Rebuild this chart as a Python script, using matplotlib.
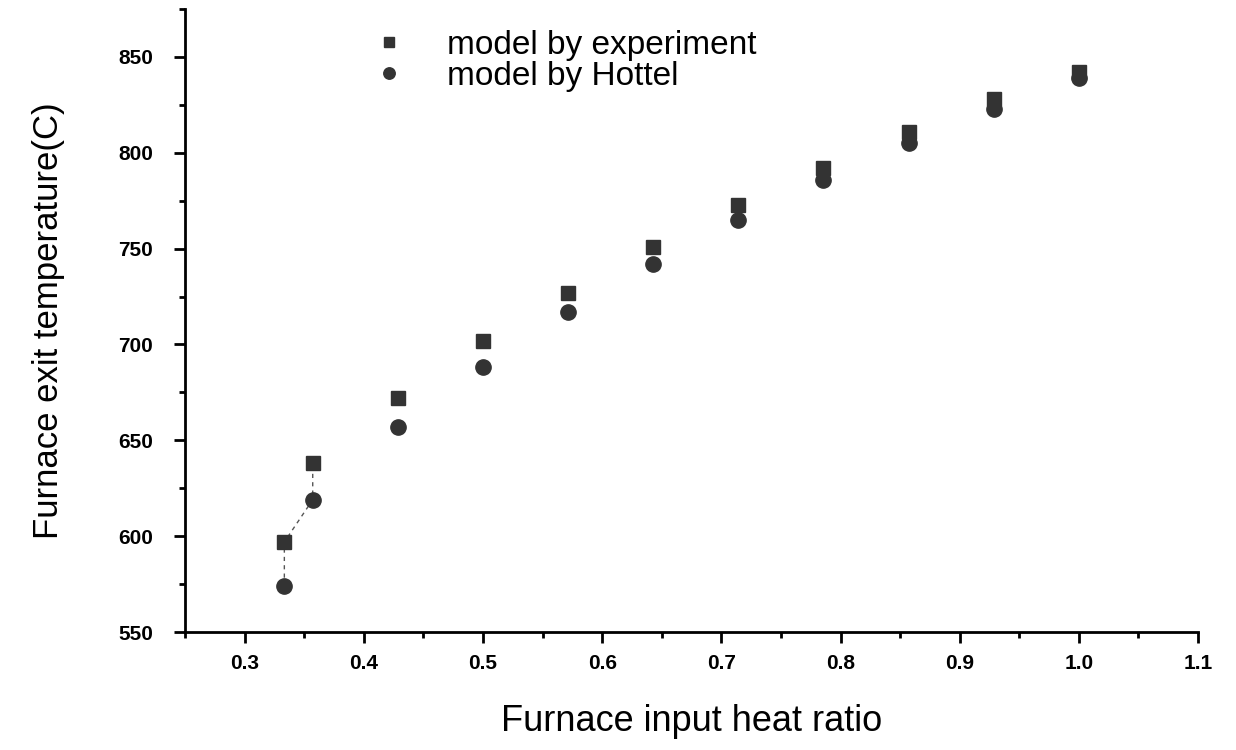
import numpy as np
import matplotlib.pyplot as plt
from matplotlib.ticker import MultipleLocator

plt.rcParams['font.family'] = ['Liberation Sans', 'DejaVu Sans']

# input heat ratio
heat_ratio = [1/3, 5/14, 6/14, 7/14, 8/14, 9/14, 10/14, 11/14, 12/14, 13/14, 1.0]
# exit temperature (C)
temp_experiment = [597, 638, 672, 702, 727, 751, 773, 792, 811, 828, 842]
temp_hottel = [574, 619, 657, 688, 717, 742, 765, 786, 805, 823, 839]

# thin dashed trace through the first points
trace_x = [1/3, 1/3, 5/14, 5/14]
trace_y = [574, 597, 619, 638]

fig = plt.figure(figsize=(12.36, 7.5), dpi=100)
ax = fig.add_axes([0.1497, 0.1573, 0.8196, 0.8307])

ax.plot(trace_x, trace_y, color='#555555', lw=1.0, ls=(0, (3, 3)), zorder=1)
ax.plot(heat_ratio, temp_experiment, ls='none', marker='s', ms=9.5,
        color='#333333', label='model by experiment', zorder=3)
ax.plot(heat_ratio, temp_hottel, ls='none', marker='o', ms=11,
        color='#333333', label='model by Hottel', zorder=2)

ax.set_xlim(0.25, 1.1)
ax.set_ylim(550, 875)
ax.xaxis.set_minor_locator(MultipleLocator(0.05))
ax.yaxis.set_minor_locator(MultipleLocator(25))
ax.set_xticks(np.arange(0.3, 1.11, 0.1))
ax.set_xticklabels(['0.3', '0.4', '0.5', '0.6', '0.7', '0.8', '0.9', '1.0', '1.1'])
ax.set_yticks(np.arange(550, 851, 50))

for s in ['top', 'right']:
    ax.spines[s].set_visible(False)
for s in ['left', 'bottom']:
    ax.spines[s].set_linewidth(2)

ax.tick_params(which='major', direction='out', length=8, width=2,
               labelsize=15)
ax.tick_params(axis='x', which='major', pad=8)
ax.tick_params(axis='y', which='major', pad=15)
ax.tick_params(which='minor', direction='out', length=4, width=2)
for lab in ax.get_xticklabels() + ax.get_yticklabels():
    lab.set_fontweight('bold')

ax.set_xlabel('Furnace input heat ratio', fontsize=26, labelpad=22)
ax.set_ylabel('Furnace exit temperature(C)', fontsize=25, labelpad=38)

ax.legend(loc='upper left', bbox_to_anchor=(0.147, 1.015), frameon=False,
          fontsize=24, handletextpad=1.0, labelspacing=0.0, markerscale=0.75,
          handlelength=1.5)

fig.savefig('out.png', dpi=100)
